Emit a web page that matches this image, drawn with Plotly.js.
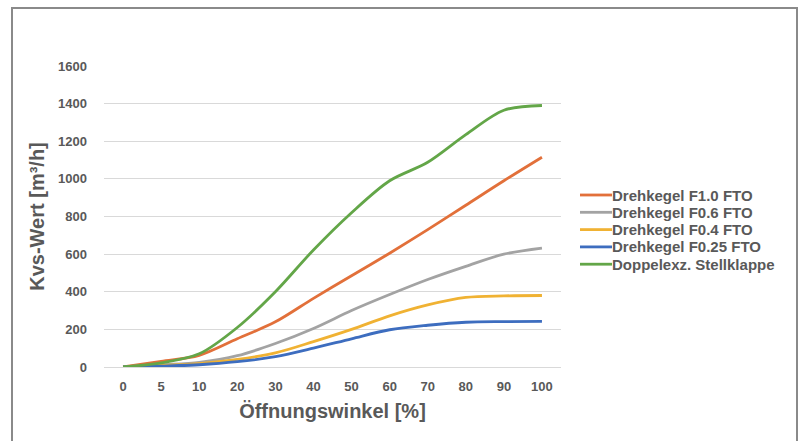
<!DOCTYPE html>
<html>
<head>
<meta charset="utf-8">
<script src="https://cdn.plot.ly/plotly-3.0.1.min.js"></script>
<style>
  html, body { margin: 0; padding: 0; background: #ffffff; }
  #wrap { position: relative; width: 802px; height: 441px; overflow: hidden; }
  #chart { width: 802px; height: 441px; }
  #frame { position: absolute; left: 11px; top: 7px; width: 783px; height: 460px;
           border: 2px solid #8a8a8a; pointer-events: none; }
</style>
</head>
<body>
<div id="wrap">
  <div id="chart"></div>
  <div id="frame"></div>
</div>
<script>
const categories = ["0", "5", "10", "20", "30", "40", "50", "60", "70", "80", "90", "100"];

const seriesNames = [
  "Drehkegel F1.0 FTO",
  "Drehkegel F0.6 FTO",
  "Drehkegel F0.4 FTO",
  "Drehkegel F0.25 FTO",
  "Doppelexz. Stellklappe"
];

const drehkegelF10 = [0, 30, 62, 150, 240, 365, 485, 605, 730, 860, 990, 1115];
const drehkegelF06 = [0, 12, 25, 60, 125, 205, 300, 385, 465, 535, 600, 632];
const drehkegelF04 = [0, 8, 18, 40, 75, 135, 200, 272, 330, 370, 378, 380];
const drehkegelF025 = [0, 5, 12, 28, 55, 100, 150, 198, 222, 238, 241, 242];
const doppelexz = [0, 22, 70, 210, 400, 622, 820, 990, 1088, 1235, 1365, 1390];

const yTicks = [0, 200, 400, 600, 800, 1000, 1200, 1400, 1600];

const colors = ["#E2703A", "#A3A3A3", "#F0B233", "#3D6DBF", "#63A648"];
const allSeries = [drehkegelF10, drehkegelF06, drehkegelF04, drehkegelF025, doppelexz];

const traces = allSeries.map((vals, i) => ({
  type: "scatter",
  mode: "lines",
  name: seriesNames[i],
  x: categories,
  y: vals,
  line: { color: colors[i], width: 2.8, shape: "spline", smoothing: 0.9 },
  hoverinfo: "skip",
  showlegend: false
}));

// Legend drawn as layout shapes + annotations (pixels converted to paper fractions)
const W = 802, H = 441;
const ML = 104, MR = 241, MT = 66, MB = 74;
const legTop = 195, legStep = 17.3, lineX0 = 580, lineX1 = 612, textX = 610;
const px = v => (v - ML) / (W - ML - MR);
const py = v => (H - MB - v) / (H - MT - MB);
const shapes = [];
const annotations = [];
seriesNames.forEach((name, i) => {
  const yc = legTop + i * legStep;
  shapes.push({
    type: "line", xref: "paper", yref: "paper",
    x0: px(lineX0), x1: px(lineX1), y0: py(yc), y1: py(yc),
    line: { color: colors[i], width: 2.8 }
  });
  annotations.push({
    xref: "paper", yref: "paper",
    x: px(textX), y: py(yc),
    xanchor: "left", yanchor: "middle",
    text: name, showarrow: false,
    font: { size: 15, color: "#595959", family: "Liberation Sans, Arial, sans-serif", weight: "bold" }
  });
});

const layout = {
  width: W,
  height: H,
  margin: { l: ML, r: MR, t: MT, b: MB },
  paper_bgcolor: "#ffffff",
  plot_bgcolor: "#ffffff",
  font: { family: "Liberation Sans, Arial, sans-serif", color: "#595959" },
  showlegend: false,
  shapes: shapes,
  annotations: annotations,
  xaxis: {
    type: "category",
    categoryorder: "array",
    categoryarray: categories,
    range: [-0.5, categories.length - 0.5],
    showgrid: false,
    zeroline: false,
    showline: false,
    ticks: "",
    ticklabelstandoff: 10,
    tickfont: { size: 13, color: "#595959", weight: "bold" },
    title: { text: "Öffnungswinkel [%]", standoff: 10,
             font: { size: 20, color: "#595959", weight: "bold" } },
    fixedrange: true
  },
  yaxis: {
    range: [0, 1600],
    tickvals: yTicks,
    ticktext: yTicks.map(String),
    showgrid: true,
    gridcolor: "#D9D9D9",
    gridwidth: 1,
    zeroline: true,
    zerolinecolor: "#D9D9D9",
    zerolinewidth: 1,
    showline: false,
    ticks: "",
    ticklabelstandoff: 16,
    tickfont: { size: 13, color: "#595959", weight: "bold" },
    title: { text: "Kvs-Wert [m³/h]", standoff: 8,
             font: { size: 20, color: "#595959", weight: "bold" } },
    fixedrange: true
  }
};

Plotly.newPlot("chart", traces, layout, { staticPlot: true, displayModeBar: false });
</script>
</body>
</html>
